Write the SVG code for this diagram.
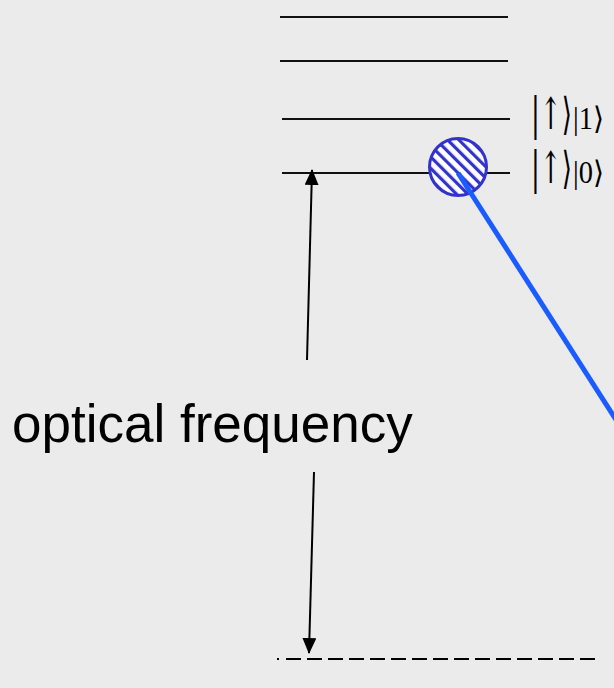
<svg xmlns="http://www.w3.org/2000/svg" width="614" height="688" viewBox="0 0 614 688">
<style>
.lvl{stroke:#111;stroke-width:2;fill:none}
.arr{stroke:#000;stroke-width:2;fill:none}
.ketA{font-family:"DejaVu Serif","Liberation Serif",serif;font-size:44px;fill:#000}
.ketB{font-family:"Liberation Serif","DejaVu Serif",serif;font-size:31px;fill:#000}
.lbl{font-family:"Liberation Sans",Arial,sans-serif;font-size:53px;fill:#000}
</style>
<defs>
<pattern id="hatch" width="8" height="8" patternUnits="userSpaceOnUse" patternTransform="rotate(-45)">
<rect width="8" height="8" fill="#fff"/>
<rect width="3.2" height="8" fill="#3333cc"/>
</pattern>
<marker id="ah" viewBox="0 0 16 14" refX="15" refY="7" markerWidth="16" markerHeight="14" markerUnits="userSpaceOnUse" orient="auto">
<path d="M0,0 L16,7 L0,14 Z" fill="#000"/>
</marker>
</defs>
<rect width="614" height="688" fill="#ebebeb"/>
<g id="levels">
<line class="lvl" x1="280" y1="17" x2="508" y2="17"/>
<line class="lvl" x1="280" y1="61" x2="508" y2="61"/>
<line class="lvl" x1="282" y1="119" x2="510" y2="119"/>
<line class="lvl" x1="282" y1="173" x2="510" y2="173"/>
</g>
<g id="ground">
<line x1="277" y1="659" x2="279" y2="659" stroke="#000" stroke-width="2"/>
<line x1="286" y1="659" x2="598" y2="659" stroke="#000" stroke-width="2" stroke-dasharray="15 6"/>
</g>
<g id="label-1">
<text class="ketA" x="531" y="129" textLength="41" lengthAdjust="spacingAndGlyphs">|↑⟩</text>
<text class="ketB" x="573" y="129" textLength="31" lengthAdjust="spacingAndGlyphs">|1⟩</text>
</g>
<g id="label-0">
<text class="ketA" x="531" y="183" textLength="41" lengthAdjust="spacingAndGlyphs">|↑⟩</text>
<text class="ketB" x="573" y="183" textLength="31" lengthAdjust="spacingAndGlyphs">|0⟩</text>
</g>
<g id="atom">
<circle cx="458" cy="167" r="28.5" fill="url(#hatch)" stroke="#3333cc" stroke-width="3"/>
</g>
<g id="text-optical">
<text class="lbl" x="12" y="442">optical frequency</text>
</g>
<g id="connectors">
<line x1="458" y1="173" x2="620" y2="426" stroke="#1a5cff" stroke-width="5"/>
<line class="arr" x1="307" y1="360" x2="312" y2="170" marker-end="url(#ah)"/>
<line class="arr" x1="314" y1="472" x2="309" y2="653" marker-end="url(#ah)"/>
</g>
</svg>
